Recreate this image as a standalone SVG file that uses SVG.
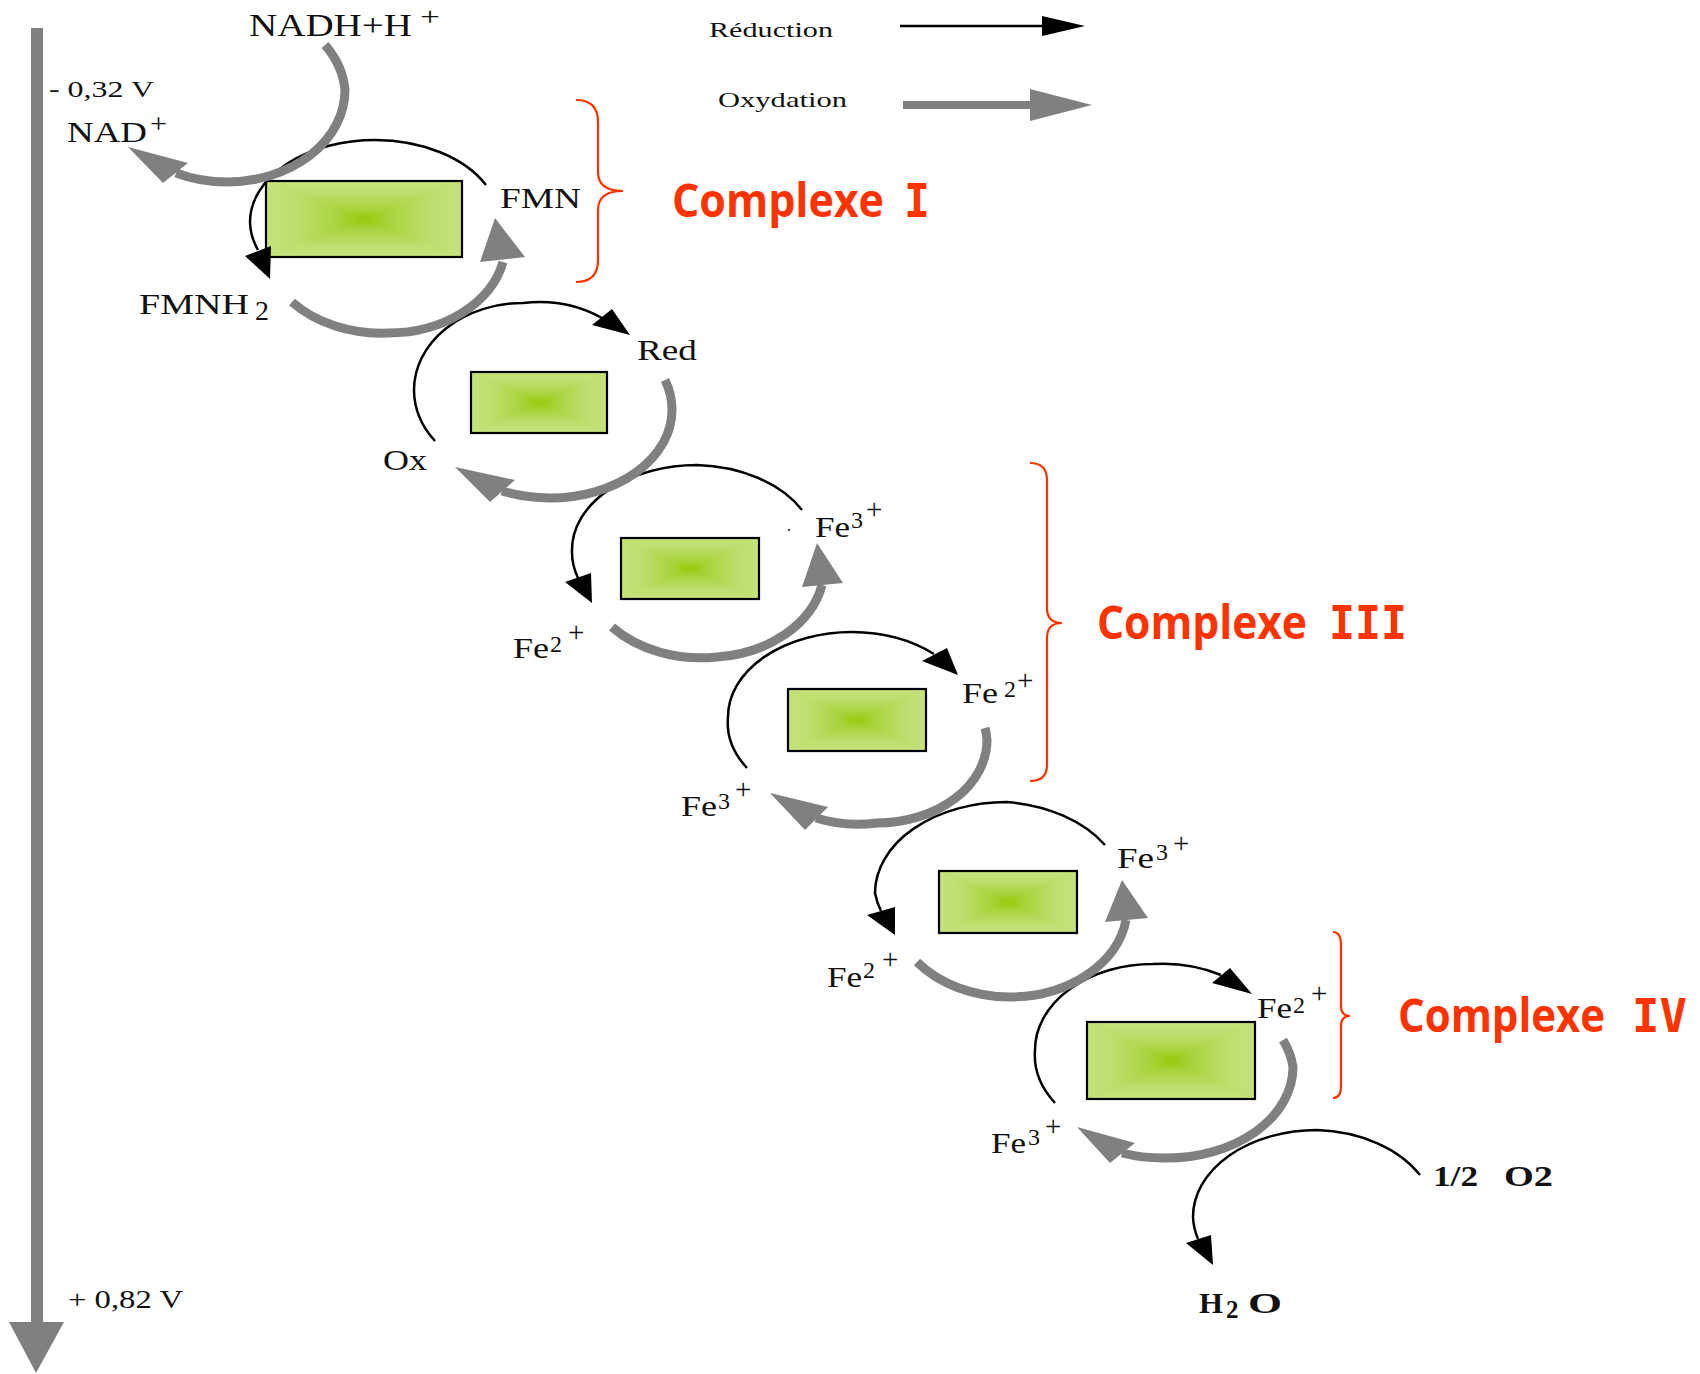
<svg xmlns="http://www.w3.org/2000/svg" xmlns:xlink="http://www.w3.org/1999/xlink" width="1700" height="1374" viewBox="0 0 1700 1374">
<style>
.red{stroke:#000;stroke-width:2.5;fill:none}
.ox{stroke:#808080;stroke-width:9;fill:none}
.ahb{fill:#000}
.ahg{fill:#808080}
.box{fill:none;stroke:#000;stroke-width:2.2}
.lbl{font-family:"Liberation Serif","Times New Roman",serif;fill:#111;font-size:30px}
.sub{font-size:24px}
.sup{font-size:29px}
.bold{font-weight:bold}
.cx{font-family:"Open Sans","DejaVu Sans",sans-serif;font-weight:bold;fill:#ff3300;font-size:46px}
.num{font-family:"DejaVu Sans Mono",monospace;font-weight:bold;fill:#ff3300;font-size:46px}
.brace{stroke:#ff3300;stroke-width:2.2;fill:none}
</style>
<defs>
<linearGradient id="gT" x1="0" y1="0" x2="0" y2="1"><stop offset="0" stop-color="#c6e27c"/><stop offset="0.3" stop-color="#c0de70"/><stop offset="0.75" stop-color="#a9d33c"/><stop offset="1" stop-color="#97c806"/></linearGradient>
<linearGradient id="gB" x1="0" y1="1" x2="0" y2="0"><stop offset="0" stop-color="#c6e27c"/><stop offset="0.3" stop-color="#c0de70"/><stop offset="0.75" stop-color="#a9d33c"/><stop offset="1" stop-color="#97c806"/></linearGradient>
<linearGradient id="gL" x1="0" y1="0" x2="1" y2="0"><stop offset="0" stop-color="#c6e27c"/><stop offset="0.3" stop-color="#c0de70"/><stop offset="0.75" stop-color="#a9d33c"/><stop offset="1" stop-color="#97c806"/></linearGradient>
<linearGradient id="gR" x1="1" y1="0" x2="0" y2="0"><stop offset="0" stop-color="#c6e27c"/><stop offset="0.3" stop-color="#c0de70"/><stop offset="0.75" stop-color="#a9d33c"/><stop offset="1" stop-color="#97c806"/></linearGradient>
<symbol id="gbox" viewBox="0 0 100 100" preserveAspectRatio="none">
<rect x="0" y="0" width="100" height="100" fill="#b5d95a"/>
<polygon points="0,0 100,0 50,50" fill="url(#gT)"/>
<polygon points="0,100 100,100 50,50" fill="url(#gB)"/>
<polygon points="0,0 0,100 50,50" fill="url(#gL)"/>
<polygon points="100,0 100,100 50,50" fill="url(#gR)"/>
</symbol>
</defs>
<rect width="1700" height="1374" fill="#fff"/>

<g id="axis">
<rect x="31" y="28" width="12" height="1296" fill="#808080"/>
<polygon points="9,1322 64,1322 36,1373" fill="#808080"/>
<text class="lbl" x="49" y="97" style="font-size:23px" textLength="105" lengthAdjust="spacingAndGlyphs">- 0,32 V</text>
<text class="lbl" x="68" y="1308" style="font-size:25px" textLength="115" lengthAdjust="spacingAndGlyphs">+ 0,82 V</text>
</g>

<g id="legend">
<text class="lbl" x="709" y="37" style="font-size:22px" textLength="124" lengthAdjust="spacingAndGlyphs">Réduction</text>
<line x1="900" y1="26" x2="1045" y2="26" stroke="#000" stroke-width="2.5"/>
<polygon points="1042,16 1085,26 1042,36" class="ahb"/>
<text class="lbl" x="718" y="107" style="font-size:22px" textLength="129" lengthAdjust="spacingAndGlyphs">Oxydation</text>
<line x1="903" y1="105" x2="1034" y2="105" stroke="#808080" stroke-width="8"/>
<polygon points="1030,89 1092,105 1030,121" class="ahg"/>
</g>

<g id="c1"><use xlink:href="#gbox" x="266" y="181" width="196" height="76"/><rect class="box" x="266" y="181" width="196" height="76"/></g>
<g id="c2"><use xlink:href="#gbox" x="471" y="372" width="136" height="61"/><rect class="box" x="471" y="372" width="136" height="61"/></g>
<g id="c3"><use xlink:href="#gbox" x="621" y="538" width="138" height="61"/><rect class="box" x="621" y="538" width="138" height="61"/></g>
<g id="c4"><use xlink:href="#gbox" x="788" y="689" width="138" height="62"/><rect class="box" x="788" y="689" width="138" height="62"/></g>
<g id="c5"><use xlink:href="#gbox" x="939" y="871" width="138" height="62"/><rect class="box" x="939" y="871" width="138" height="62"/></g>
<g id="c6"><use xlink:href="#gbox" x="1087" y="1022" width="168" height="77"/><rect class="box" x="1087" y="1022" width="168" height="77"/></g>

<g id="connectors">
<path class="red" d="M 486,185 A 125 82 0 0 0 375,140 A 125 82 0 0 0 250,222 A 125 82 0 0 0 258,250"/>
<path class="red" d="M 435,441 A 109 87 0 0 1 414,390 A 109 87 0 0 1 523,303 A 109 87 0 0 1 602,318"/>
<path class="red" d="M 802,510 A 125 85 0 0 0 697,465 A 125 85 0 0 0 572,550 A 125 85 0 0 0 578,578"/>
<path class="red" d="M 747,768 A 124 85 0 0 1 728,717 A 124 85 0 0 1 852,632 A 124 85 0 0 1 934,654"/>
<path class="red" d="M 1105,845 A 132 91 0 0 0 1007,802 A 132 91 0 0 0 875,893 A 132 91 0 0 0 881,911"/>
<path class="red" d="M 1055,1103 A 118 86 0 0 1 1035,1050 A 118 86 0 0 1 1153,964 A 118 86 0 0 1 1221,975"/>
<path class="red" d="M 1420,1175 A 124 87 0 0 0 1317,1130 A 124 87 0 0 0 1193,1217 A 124 87 0 0 0 1198,1239"/>

<path class="ox" d="M 325,45 A 118 92 0 0 1 345,90 A 118 92 0 0 1 227,182 A 118 92 0 0 1 176,173"/>
<path class="ox" d="M 292,302 A 118 90 0 0 0 388,333 A 118 90 0 0 0 503,262"/>
<path class="ox" d="M 665,380 A 122 88 0 0 1 672,410 A 122 88 0 0 1 550,498 A 122 88 0 0 1 502,491"/>
<path class="ox" d="M 612,627 A 118 90 0 0 0 717,657 A 118 90 0 0 0 822,585"/>
<path class="ox" d="M 985,728 A 110 83 0 0 1 987,740 A 110 83 0 0 1 877,823 A 110 83 0 0 1 816,818"/>
<path class="ox" d="M 917,962 A 118 90 0 0 0 1010,997 A 118 90 0 0 0 1126,920"/>
<path class="ox" d="M 1283,1040 A 126 91 0 0 1 1293,1067 A 126 91 0 0 1 1167,1158 A 126 91 0 0 1 1122,1153"/>

<polygon class="ahb" points="245,256 271,246 270,279"/>
<polygon class="ahb" points="592,325 612,309 630,335"/>
<polygon class="ahb" points="565,582 591,573 592,603"/>
<polygon class="ahb" points="922,661 947,648 958,675"/>
<polygon class="ahb" points="867,915 895,907 895,935"/>
<polygon class="ahb" points="1212,983 1230,968 1252,994"/>
<polygon class="ahb" points="1186,1243 1211,1235 1213,1265"/>

<polygon class="ahg" points="188,163 163,183 128,147"/>
<polygon class="ahg" points="480,262 525,257 495,218"/>
<polygon class="ahg" points="490,502 515,480 455,467"/>
<polygon class="ahg" points="802,587 843,583 817,543"/>
<polygon class="ahg" points="828,807 805,830 770,793"/>
<polygon class="ahg" points="1105,922 1148,918 1122,880"/>
<polygon class="ahg" points="1135,1143 1110,1163 1077,1127"/>
</g>

<g id="lbl-nadh"><text class="lbl" x="249" y="36" style="font-size:32px" textLength="163" lengthAdjust="spacingAndGlyphs">NADH+H</text><text class="lbl" x="420" y="25" style="font-size:26px" textLength="20" lengthAdjust="spacingAndGlyphs">+</text></g>
<g id="lbl-nad"><text class="lbl" x="67" y="142" textLength="80" lengthAdjust="spacingAndGlyphs">NAD</text><text class="lbl" x="150" y="133" style="font-size:28px" textLength="17" lengthAdjust="spacingAndGlyphs">+</text></g>
<g id="lbl-fmn"><text class="lbl" x="500" y="208" textLength="81" lengthAdjust="spacingAndGlyphs">FMN</text></g>
<g id="lbl-fmnh2"><text class="lbl" x="139" y="314" textLength="110" lengthAdjust="spacingAndGlyphs">FMNH</text><text class="lbl" x="255" y="320" style="font-size:28px">2</text></g>
<g id="lbl-red"><text class="lbl" x="637" y="360" textLength="60" lengthAdjust="spacingAndGlyphs">Red</text></g>
<g id="lbl-ox"><text class="lbl" x="383" y="470" textLength="44" lengthAdjust="spacingAndGlyphs">Ox</text></g>

<g id="lbl-fe3-a"><text class="lbl" x="815" y="537" textLength="35" lengthAdjust="spacingAndGlyphs">Fe</text><text class="lbl sub" x="851" y="528">3</text><text class="lbl sup" x="866" y="519">+</text><circle cx="789" cy="530" r="1.2" fill="#555"/></g>
<g id="lbl-fe2-a"><text class="lbl" x="513" y="658" textLength="36" lengthAdjust="spacingAndGlyphs">Fe</text><text class="lbl sub" x="550" y="652">2</text><text class="lbl sup" x="568" y="642">+</text></g>
<g id="lbl-fe2-b"><text class="lbl" x="962" y="703" textLength="36" lengthAdjust="spacingAndGlyphs">Fe</text><text class="lbl sub" x="1004" y="697">2</text><text class="lbl sup" x="1017" y="690">+</text></g>
<g id="lbl-fe3-b"><text class="lbl" x="681" y="816" textLength="36" lengthAdjust="spacingAndGlyphs">Fe</text><text class="lbl sub" x="718" y="809">3</text><text class="lbl sup" x="735" y="799">+</text></g>
<g id="lbl-fe3-c"><text class="lbl" x="1117" y="868" textLength="37" lengthAdjust="spacingAndGlyphs">Fe</text><text class="lbl sub" x="1156" y="860">3</text><text class="lbl sup" x="1173" y="853">+</text></g>
<g id="lbl-fe2-c"><text class="lbl" x="827" y="987" textLength="35" lengthAdjust="spacingAndGlyphs">Fe</text><text class="lbl sub" x="863" y="978">2</text><text class="lbl sup" x="882" y="969">+</text></g>
<g id="lbl-fe2-d"><text class="lbl" x="1257" y="1018" textLength="35" lengthAdjust="spacingAndGlyphs">Fe</text><text class="lbl sub" x="1293" y="1013">2</text><text class="lbl sup" x="1311" y="1003">+</text></g>
<g id="lbl-fe3-d"><text class="lbl" x="991" y="1153" textLength="35" lengthAdjust="spacingAndGlyphs">Fe</text><text class="lbl sub" x="1028" y="1145">3</text><text class="lbl sup" x="1045" y="1136">+</text></g>

<g id="lbl-o2"><text class="lbl bold" x="1433" y="1186" textLength="45" lengthAdjust="spacingAndGlyphs">1/2</text><text class="lbl bold" x="1504" y="1186" textLength="49" lengthAdjust="spacingAndGlyphs">O2</text></g>
<g id="lbl-h2o"><text class="lbl bold" x="1199" y="1313" textLength="24" lengthAdjust="spacingAndGlyphs">H</text><text class="lbl bold" x="1226" y="1318" style="font-size:25px">2</text><text class="lbl bold" x="1248" y="1313" textLength="34" lengthAdjust="spacingAndGlyphs">O</text></g>

<g id="complexe-1">
<path class="brace" d="M 576,100 Q 598,100 598,122 L 598,172 Q 598,191 623,191 Q 598,191 598,210 L 598,260 Q 598,282 576,282"/>
<text class="cx" x="672" y="217" textLength="212" lengthAdjust="spacingAndGlyphs">Complexe</text>
<text class="num" x="904" y="217" textLength="26" lengthAdjust="spacingAndGlyphs">I</text>
</g>
<g id="complexe-3">
<path class="brace" d="M 1030,463 Q 1047,463 1047,480 L 1047,608 Q 1047,623 1062,623 Q 1047,623 1047,638 L 1047,765 Q 1047,781 1030,781"/>
<text class="cx" x="1097" y="639" textLength="210" lengthAdjust="spacingAndGlyphs">Complexe</text>
<text class="num" x="1329" y="639" textLength="78" lengthAdjust="spacingAndGlyphs">III</text>
</g>
<g id="complexe-4">
<path class="brace" d="M 1333,932 Q 1341,932 1341,945 L 1341,1006 Q 1341,1016 1350,1016 Q 1341,1016 1341,1026 L 1341,1086 Q 1341,1098 1333,1098"/>
<text class="cx" x="1398" y="1032" textLength="207" lengthAdjust="spacingAndGlyphs">Complexe</text>
<text class="num" x="1632" y="1032" textLength="55" lengthAdjust="spacingAndGlyphs">IV</text>
</g>
</svg>
